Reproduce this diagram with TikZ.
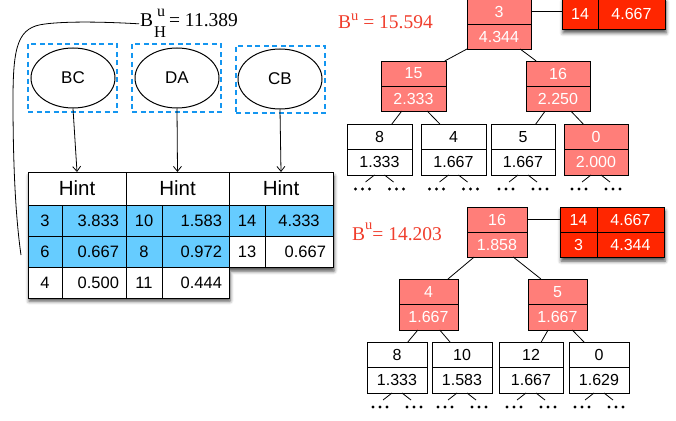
\documentclass[tikz,border=0pt]{standalone}
\usepackage{fontspec}
\setmainfont{Liberation Serif}
\newfontfamily\hv{Liberation Sans}
\usetikzlibrary{arrows.meta,calc,shadows.blur,shapes.geometric}

\definecolor{salmon}{RGB}{255,126,121}
\definecolor{hotred}{RGB}{255,38,0}
\definecolor{skyfill}{RGB}{102,204,255}
\definecolor{dashblue}{RGB}{20,150,240}
\definecolor{labelred}{RGB}{240,62,45}

\tikzset{
  cell/.style={draw, line width=0.9pt, fill=white, inner sep=0pt, outer sep=0pt,
    font=\hv\fontsize{16}{18}\selectfont},
  rcell/.style={cell, fill=salmon, text=white},
  hcell/.style={cell, fill=hotred, text=white},
  edge/.style={line width=0.8pt},
  arr/.style={line width=0.8pt, -{Straight Barb[length=5pt,width=8pt]}},
  tcell/.style={draw, line width=1pt, inner sep=0pt, outer sep=0pt, fill=white,
    minimum height=31pt, font=\hv\fontsize{16.5}{18}\selectfont},
  tval/.style={tcell, text width=#1, inner xsep=7pt, align=right},
  thead/.style={tcell, minimum height=33pt, font=\hv\fontsize{20.5}{22}\selectfont},
  ell/.style={ellipse, draw, line width=1pt, fill=white, minimum width=84pt,
    minimum height=60pt, inner sep=0pt, font=\hv\fontsize{17}{19}\selectfont},
  dbox/.style={draw=dashblue, line width=2.5pt, dash pattern=on 5pt off 3.5pt,
    minimum width=89pt, inner sep=0pt},
  bound/.style={font=\fontsize{19.5}{21}\selectfont, inner sep=1pt},
  shade/.style={blur shadow={shadow xshift=1pt, shadow yshift=-4pt,
    shadow blur radius=3.5pt, shadow opacity=70}},
}

% two-cell tree node: name, left x, top y, width, cell height, style, top text, bottom text
\newcommand\tnode[8]{%
  \node[#6, minimum width=#4, minimum height=#5, anchor=north west] (#1t) at (#2,#3) {#7};
  \node[#6, minimum width=#4, minimum height=#5, anchor=north west] (#1b) at (#1t.south west) {#8};}
% tree edge between the bottom of one node and the top of another
\newcommand\link[4]{\draw[edge] ($(#1.south west)!#2!(#1.south east)$) -- ($(#3.north west)!#4!(#3.north east)$);}
% elided subtrees below a leaf
\newcommand\more[1]{%
  \draw[edge] ($(#1.south)+(-5,0)$) -- ++(-9,7);
  \draw[edge] ($(#1.south)+(5,0)$) -- ++(9,7);
  \foreach \dx in {-24,-17,-10,10,17,24}
    \fill ($(#1.south)+(\dx,14)$) circle (1.6pt);}
% table row: prefix, anchor, key width, value text width, fill, key, value
\newcommand\trow[7]{%
  \node[tcell, minimum width=#3, fill=#5, anchor=north west] (#1k) at (#2) {#6};
  \node[tval=#4, fill=#5, anchor=north west] (#1v) at (#1k.north east) {#7};}

\begin{document}
\begin{tikzpicture}[x=1pt, y=-1pt]
\useasboundingbox (0,0) rectangle (676,420);

% ---------- hint tables ----------
\path[fill=white, shade] (28,172) -- (333,172) -- (333,267) -- (229,267)
  -- (229,297) -- (28,297) -- cycle;

\node[thead, minimum width=98pt, anchor=north west] (h1) at (28,172) {Hint};
\trow{a1}{h1.south west}{34pt}{50pt}{skyfill}{3}{3.833}
\trow{a2}{a1k.south west}{34pt}{50pt}{skyfill}{6}{0.667}
\trow{a3}{a2k.south west}{34pt}{50pt}{white}{4}{0.500}

\node[thead, minimum width=103pt, anchor=north west] (h2) at (h1.north east) {Hint};
\trow{b1}{h2.south west}{36pt}{53pt}{skyfill}{10}{1.583}
\trow{b2}{b1k.south west}{36pt}{53pt}{skyfill}{8}{0.972}
\trow{b3}{b2k.south west}{36pt}{53pt}{white}{11}{0.444}

\node[thead, minimum width=104pt, anchor=north west] (h3) at (h2.north east) {Hint};
\node[tcell, minimum width=36pt, fill=skyfill, anchor=north west] (c1k) at (h3.south west) {14};
\node[tcell, minimum width=68pt, fill=skyfill, anchor=north west] (c1v) at (c1k.north east) {4.333};
\trow{c2}{c1k.south west}{36pt}{54pt}{white}{13}{0.667}

% ---------- hint sources ----------
\node[dbox, minimum height=68pt] (bcbox) at (72.5,78) {};
\node[dbox, minimum height=68pt] (dabox) at (176.5,78) {};
\node[dbox, minimum height=67pt] (cbbox) at (280.5,79.5) {};
\node[ell] (bc) at (73,78) {BC};
\node[ell] (da) at (177,78) {DA};
\node[ell] (cb) at (280,79) {CB};
\draw[arr] (bc.south) -- (h1.north);
\draw[arr] (da.south) -- (h2.north);
\draw[arr] (cb.south) -- (h3.north);

% ---------- bound of the hints ----------
\node[bound, anchor=base west] (bh) at (139,27)
  {B\kern1pt\rlap{\hbox to 14pt{\hss\raisebox{10pt}{\fontsize{16}{16}\selectfont u}\hss}}%
   \raisebox{-11pt}{\fontsize{16.5}{16}\selectfont H}\kern3pt= 11.389};
\coordinate (bhend) at (21,255);
\draw[edge] (bh.west) .. controls (90,21) and (60,22) .. (45,24)
  .. controls (18,27) and (13,45) .. (13,100)
  .. controls (13,170) and (16,220) .. (bhend);

% ---------- upper tree ----------
\node[bound, text=labelred, anchor=base west] (bu1) at (337,29)
  {B\raisebox{8pt}{\fontsize{14.5}{14}\selectfont u} = 15.594};

\path[fill=hotred, shade] (562,-2) rectangle (665,29);
\node[hcell, minimum width=36pt, minimum height=31pt, anchor=north west] (p1k) at (562,-2) {14};
\node[hcell, minimum width=67pt, minimum height=31pt, anchor=north west] (p1v) at (p1k.north east) {4.667};

\tnode{r1}{467}{-1}{64pt}{25pt}{rcell}{3}{4.344}
\draw[edge] (r1t.east) -- (r1t.east -| p1k.west);
\tnode{s1}{381}{61}{65pt}{25pt}{rcell}{15}{2.333}
\tnode{s2}{526}{61}{64pt}{25pt}{rcell}{16}{2.250}
\tnode{l1}{347}{124}{65pt}{25.5pt}{cell}{8}{1.333}
\tnode{l2}{421}{124}{65pt}{25.5pt}{cell}{4}{1.667}
\tnode{l3}{491}{124}{64pt}{25.5pt}{cell}{5}{1.667}
\tnode{l4}{564}{124}{64pt}{25.5pt}{rcell}{0}{2.000}

\link{r1b}{0.0}{s1t}{0.98}
\link{r1b}{0.83}{s2t}{0.16}
\link{s1b}{0.32}{l1t}{0.69}
\link{s1b}{0.71}{l2t}{0.29}
\link{s2b}{0.30}{l3t}{0.70}
\link{s2b}{0.70}{l4t}{0.30}
\more{l1b}\more{l2b}\more{l3b}\more{l4b}

% ---------- lower tree ----------
\node[bound, text=labelred, anchor=base west] (bu2) at (351,240)
  {B\raisebox{11pt}{\fontsize{14.5}{14}\selectfont u}= 14.203};

\path[fill=hotred, shade] (560,207) rectangle (664,257);
\node[hcell, minimum width=37pt, minimum height=25pt, anchor=north west] (p2k) at (560,207) {14};
\node[hcell, minimum width=67pt, minimum height=25pt, anchor=north west] (p2v) at (p2k.north east) {4.667};
\node[hcell, minimum width=37pt, minimum height=25pt, anchor=north west] (p3k) at (p2k.south west) {3};
\node[hcell, minimum width=67pt, minimum height=25pt, anchor=north west] (p3v) at (p3k.north east) {4.344};

\tnode{r2}{467}{207}{60pt}{25pt}{rcell}{16}{1.858}
\draw[edge] (r2t.east) -- (r2t.east -| p2k.west);
\tnode{t1}{399}{279}{59pt}{25.5pt}{rcell}{4}{1.667}
\tnode{t2}{528}{279}{59pt}{25.5pt}{rcell}{5}{1.667}
\tnode{m1}{367}{342}{60pt}{25.5pt}{cell}{8}{1.333}
\tnode{m2}{432}{342}{60pt}{25.5pt}{cell}{10}{1.583}
\tnode{m3}{499}{342}{64pt}{25.5pt}{cell}{12}{1.667}
\tnode{m4}{569}{342}{60pt}{25.5pt}{cell}{0}{1.629}

\link{r2b}{0.12}{t1t}{0.83}
\link{r2b}{0.77}{t2t}{0.22}
\link{t1b}{0.32}{m1t}{0.68}
\link{t1b}{0.69}{m2t}{0.30}
\link{t2b}{0.34}{m3t}{0.66}
\link{t2b}{0.75}{m4t}{0.25}
\more{m1b}\more{m2b}\more{m3b}\more{m4b}
\end{tikzpicture}
\end{document}
